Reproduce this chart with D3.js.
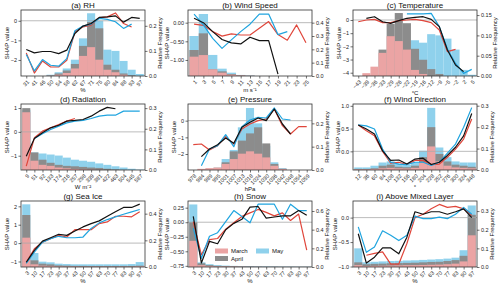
<!DOCTYPE html>
<html>
<head>
<meta charset="utf-8">
<script src="https://cdn.jsdelivr.net/npm/d3@7"></script>
<style>
  body { margin: 0; background: #fff; }
  svg { display: block; }
  text { font-family: "Liberation Sans", Arial, sans-serif; }
</style>
</head>
<body>
<div id="chart"></div>
<script>
// ---- data (SHAP values per bin, relative frequency per bin) ----
const pctLabels = ['3', '10', '17', '23', '30', '37', '43', '50', '57', '63', '70', '77', '83', '90', '97'];

// (a) RH
const rhLabels = ['31', '41', '46', '50', '54', '58', '62', '67', '71', '75', '80', '84', '88', '93', '97'];
const rhShapMar = [-1.64, -2.67, -2.05, -2.36, -2.36, -2.02, -0.56, -0.31, -0.22, 0.15, 0.2, 0.4, -0.14, -0.32, null];
const rhShapApr = [-1.47, -1.64, -1.57, -1.57, -1.68, -1.5, -0.65, -0.27, -0.14, 0.17, 0.2, 0.25, -0.07, 0.17, 0.12];
const rhShapMay = [-1.72, -2.56, -1.98, -2.27, -2.32, -1.93, -0.51, -0.27, -0.17, 0.12, 0.07, -0.05, -0.39, -0.17, null];
const rhFreqMar = [0, 0, 0, 0.001, 0.005, 0.012, 0.03, 0.08, 0.115, 0.065, 0.025, 0.015, 0.005, 0, 0];
const rhFreqApr = [0, 0, 0, 0.002, 0.01, 0.022, 0.048, 0.12, 0.215, 0.19, 0.045, 0.025, 0.01, 0.003, 0];
const rhFreqMay = [0, 0, 0, 0.005, 0.015, 0.03, 0.065, 0.15, 0.25, 0.22, 0.105, 0.1, 0.06, 0.025, 0.008];

// (b) Wind Speed
const wsLabels = ['1', '3', '5', '7', '9', '11', '13', '15', '17', '19', '21', '23', '25'];
const wsShapMar = [-0.04, -0.07, -0.24, -0.36, -0.3, -0.33, -0.33, -0.15, 0.03, -0.32, -0.47, -0.06, -0.54];
const wsShapApr = [0.12, 0.0, -0.24, -0.45, -0.54, -0.57, -0.39, -0.48, -0.48, -1.38, null, null, null];
const wsShapMay = [0.23, -0.06, -0.42, -0.69, -0.46, -0.24, -0.04, 0.23, 0.23, -0.32, -0.24, null, null];
const wsFreqMar = [0.145, 0.157, 0.05, 0.025, 0.01, 0.004, 0.001, 0, 0, 0, 0, 0, 0];
const wsFreqApr = [0.195, 0.32, 0.05, 0.035, 0.015, 0.005, 0.002, 0, 0, 0, 0, 0, 0];
const wsFreqMay = [0.3, 0.465, 0.158, 0.055, 0.025, 0.008, 0.003, 0, 0, 0, 0, 0, 0];

// (c) Temperature
const tLabels = ['\u221243', '\u221239', '\u221236', '\u221233', '\u221229', '\u221226', '\u221222', '\u221219', '\u221216', '\u221212', '\u22129', '\u22125', '\u22122', '2', '5'];
const tShapMar = [-0.13, 0, 0.05, -0.2, -0.2, -0.05, 0, 0.05, -0.05, -0.2, -0.76, -2.4, -2.23, null, null];
const tShapApr = [null, 0.13, 0.25, -0.13, -0.25, -0.05, 0.13, 0.2, 0.25, 0.05, -0.5, -2.28, -3.42, -3.92, null];
const tShapMay = [null, null, null, null, null, null, 0.46, 0.46, 0.46, 0.5, -0.5, -2.2, -3.3, -4.05, -3.75];
const tFreqMar = [0, 0.007, 0.023, 0.057, 0.098, 0.086, 0.065, 0.015, 0.005, 0, 0, 0, 0, 0, 0];
const tFreqApr = [0, 0, 0.003, 0.065, 0.128, 0.155, 0.13, 0.067, 0.04, 0.017, 0.005, 0, 0, 0, 0];
const tFreqMay = [0, 0, 0, 0, 0, 0, 0.003, 0.088, 0.082, 0.103, 0.1, 0.092, 0.065, 0.015, 0.003];

// (d) Radiation
const radLabels = ['9', '51', '92', '133', '174', '216', '257', '298', '339', '381', '422', '463', '504', '545', '587'];
const radShapMar = [-1.44, -0.25, 0.03, 0.17, 0.31, 0.45, 0.56, null, null, null, null, null, null, null, null];
const radShapApr = [-1.02, -0.28, -0.04, 0.17, 0.28, 0.45, 0.48, 0.52, 0.66, 0.87, 1.03, 0.97, null, null, null];
const radShapMay = [null, -0.28, -0.08, 0.1, 0.24, 0.38, 0.45, 0.48, 0.56, 0.66, 0.7, 0.7, 0.87, 0.87, 0.87];
const radFreqMar = [0.28, 0.045, 0.025, 0.02, 0.012, 0.008, 0.005, 0.003, 0.002, 0.001, 0, 0, 0, 0, 0];
const radFreqApr = [0.30, 0.085, 0.05, 0.035, 0.025, 0.02, 0.018, 0.015, 0.012, 0.01, 0.006, 0.003, 0.001, 0, 0];
const radFreqMay = [0.29, 0.085, 0.08, 0.075, 0.07, 0.06, 0.05, 0.045, 0.04, 0.032, 0.025, 0.018, 0.012, 0.006, 0.002];

// (e) Pressure
const presLabels = ['978', '984', '989', '995', '1001', '1007', '1013', '1018', '1024', '1030', '1036', '1042', '1048', '1054', '1059'];
const presShapMar = [-1.44, -1.4, -1.76, -1.5, -0.96, -1.4, -0.5, -0.2, 0, 0.1, 0.7, -0.3, -0.8, -0.36, -0.36];
const presShapApr = [null, -2.16, -1.7, -1.44, -1.04, -1.36, -0.4, -0.1, 0.16, 0, 0.7, -0.2, -0.8, null, null];
const presShapMay = [null, -2.7, -1.7, -1.5, -0.84, -1.56, -0.36, 0.04, 0.2, 0.16, 0.76, 0.1, 0.04, null, null];
const presFreqMar = [0, 0.005, 0.008, 0.01, 0.026, 0.047, 0.07, 0.08, 0.07, 0.054, 0.018, 0.005, 0, 0, 0];
const presFreqApr = [0, 0, 0.005, 0.01, 0.033, 0.08, 0.126, 0.157, 0.183, 0.114, 0.026, 0.005, 0, 0, 0];
const presFreqMay = [0, 0, 0.002, 0.005, 0.047, 0.086, 0.183, 0.266, 0.2, 0.104, 0.033, 0.008, 0, 0, 0];

// (f) Wind Direction
const wdLabels = ['12', '36', '60', '84', '108', '132', '156', '180', '204', '228', '252', '276', '300', '324', '348'];
const wdShapMar = [0.58, 0.45, 0.34, 0, -0.26, -0.24, -0.29, -0.2, -0.2, -0.29, -0.28, -0.13, 0.05, 0.27, 0.71];
const wdShapApr = [0.58, 0.49, 0.38, 0.01, -0.2, -0.19, -0.28, -0.17, -0.15, -0.29, -0.24, -0.09, 0.09, 0.34, 0.83];
const wdShapMay = [0.58, 0.56, 0.49, 0.05, -0.24, -0.28, -0.29, -0.24, -0.24, -0.31, -0.24, -0.04, 0.16, 0.53, 0.96];
const wdFreqMar = [0.003, 0.003, 0.005, 0.008, 0.01, 0.008, 0.007, 0.01, 0.035, 0.11, 0.04, 0.02, 0.012, 0.01, 0.008];
const wdFreqApr = [0.005, 0.005, 0.008, 0.02, 0.025, 0.015, 0.013, 0.02, 0.06, 0.2, 0.075, 0.04, 0.025, 0.02, 0.015];
const wdFreqMay = [0.012, 0.012, 0.02, 0.035, 0.04, 0.03, 0.025, 0.035, 0.09, 0.29, 0.105, 0.06, 0.04, 0.035, 0.035];

// (g) Sea Ice
const siShapMar = [-1.04, -0.31, 0.05, 0.24, 0.42, 0.33, 0.73, 0.73, 0.73, 1.06, 1.15, 1.46, 1.46, 1.43, 1.7];
const siShapApr = [-1.04, -0.4, 0.11, 0.29, 0.48, 0.42, 0.66, 0.88, 1.06, 1.21, 1.46, 1.7, 1.94, 1.94, 2.12];
const siShapMay = [-1.1, -0.49, 0.05, 0.24, 0.37, 0.29, 0.29, 0.33, 0.8, 1.1, 1.28, 1.43, 1.57, 1.7, 1.83];
const siFreqMar = [0.22, 0.02, 0.01, 0.008, 0.005, 0.004, 0.004, 0.003, 0.003, 0.003, 0.003, 0.003, 0.003, 0.003, 0.005];
const siFreqApr = [0.39, 0.05, 0.025, 0.02, 0.012, 0.01, 0.008, 0.008, 0.007, 0.007, 0.007, 0.007, 0.007, 0.008, 0.01];
const siFreqMay = [0.47, 0.105, 0.04, 0.035, 0.025, 0.022, 0.02, 0.02, 0.02, 0.02, 0.02, 0.02, 0.02, 0.022, 0.037];

// (h) Snow
const snShapMar = [0.01, -0.56, -0.3, -0.28, -0.12, -0.01, 0.1, 0.16, 0.22, 0.17, 0.11, 0.16, 0.03, 0.14, -0.48];
const snShapApr = [0.1, -0.7, -0.33, -0.37, -0.13, -0.02, 0.05, 0.26, 0.27, 0.07, 0.09, 0.11, 0.11, 0.2, 0.12];
const snShapMay = [-0.1, -0.62, -0.24, -0.18, 0.01, 0.2, 0.1, -0.01, 0.31, 0.31, 0.31, 0.05, 0.31, 0.2, 0.2];
const snFreqMar = [0.28, 0.02, 0.01, 0.006, 0.005, 0.004, 0.003, 0.002, 0.002, 0.001, 0.001, 0.001, 0.001, 0.001, 0.001];
const snFreqApr = [0.48, 0.04, 0.02, 0.012, 0.01, 0.008, 0.006, 0.005, 0.004, 0.003, 0.003, 0.002, 0.002, 0.002, 0.002];
const snFreqMay = [0.67, 0.05, 0.03, 0.02, 0.015, 0.012, 0.01, 0.01, 0.008, 0.007, 0.006, 0.005, 0.005, 0.004, 0.004];

// (i) Above Mixed Layer
const amShapMar = [null, -0.77, -0.73, -0.7, -0.95, -0.95, -0.53, 0, 0.07, 0.18, 0.27, 0.21, 0.23, 0.18, 0.05];
const amShapApr = [-0.33, -0.93, -0.81, -0.62, -0.62, -0.74, -0.4, 0.12, 0.07, 0.12, 0.12, 0.07, 0.12, 0.18, 0];
const amShapMay = [-0.19, -0.71, -0.6, -0.27, -0.36, -0.47, -0.36, 0.03, -0.02, -0.02, 0.01, -0.02, 0.07, 0.21, 0.07];
const amFreqMar = [0.01, 0.005, 0.006, 0.007, 0.008, 0.009, 0.01, 0.01, 0.011, 0.012, 0.013, 0.015, 0.018, 0.03, 0.17];
const amFreqApr = [0.025, 0.015, 0.017, 0.018, 0.02, 0.021, 0.022, 0.023, 0.025, 0.027, 0.028, 0.032, 0.037, 0.06, 0.28];
const amFreqMay = [0.1, 0.025, 0.028, 0.03, 0.032, 0.033, 0.035, 0.036, 0.038, 0.04, 0.042, 0.045, 0.05, 0.09, 0.33];

const months = ['March', 'April', 'May'];

// panel table built from the arrays above
const panels = [
  { title: '(a) RH', labels: rhLabels, xlabel: '%', shap: [rhShapMar, rhShapApr, rhShapMay], freq: [rhFreqMar, rhFreqApr, rhFreqMay],
    yDom: [-2.82, 0.55], yTicks: [-2, -1, 0], yFmt: 'd', fMax: 0.263, fTicks: [0, 0.1, 0.2], fFmt: '.1f' },
  { title: '(b) Wind Speed', labels: wsLabels, xlabel: 'm s\u207B\u00B9', shap: [wsShapMar, wsShapApr, wsShapMay], freq: [wsFreqMar, wsFreqApr, wsFreqMay],
    yDom: [-1.43, 0.34], yTicks: [-1, -0.5, 0], yFmt: '.2f', fMax: 0.495, fTicks: [0, 0.1, 0.2, 0.3, 0.4], fFmt: '.1f' },
  { title: '(c) Temperature', labels: tLabels, xlabel: '\u00B0C', shap: [tShapMar, tShapApr, tShapMay], freq: [tFreqMar, tFreqApr, tFreqMay],
    yDom: [-4.25, 0.76], yTicks: [-4, -3, -2, -1, 0], yFmt: 'd', fMax: 0.1625, fTicks: [0, 0.05, 0.1, 0.15], fFmt: '.2f' },
  { title: '(d) Radiation', labels: radLabels, xlabel: 'W m\u207B\u00B2', shap: [radShapMar, radShapApr, radShapMay], freq: [radFreqMar, radFreqApr, radFreqMay],
    yDom: [-1.6, 1.17], yTicks: [-1, 0, 1], yFmt: 'd', fMax: 0.32, fTicks: [0, 0.1, 0.2, 0.3], fFmt: '.1f' },
  { title: '(e) Pressure', labels: presLabels, xlabel: 'hPa', shap: [presShapMar, presShapApr, presShapMay], freq: [presFreqMar, presFreqApr, presFreqMay],
    yDom: [-2.96, 1.0], yTicks: [-2, -1, 0], yFmt: 'd', fMax: 0.283, fTicks: [0, 0.1, 0.2], fFmt: '.1f' },
  { title: '(f) Wind Direction', labels: wdLabels, xlabel: '\u00B0', shap: [wdShapMar, wdShapApr, wdShapMay], freq: [wdFreqMar, wdFreqApr, wdFreqMay],
    yDom: [-0.41, 1.04], yTicks: [0, 0.5, 1], yFmt: '.1f', fMax: 0.308, fTicks: [0, 0.1, 0.2, 0.3], fFmt: '.1f' },
  { title: '(g) Sea Ice', labels: pctLabels, xlabel: '%', shap: [siShapMar, siShapApr, siShapMay], freq: [siFreqMar, siFreqApr, siFreqMay],
    yDom: [-1.3, 2.29], yTicks: [-1, 0, 1, 2], yFmt: 'd', fMax: 0.495, fTicks: [0, 0.2, 0.4], fFmt: '.1f' },
  { title: '(h) Snow', labels: pctLabels, xlabel: '%', shap: [snShapMar, snShapApr, snShapMay], freq: [snFreqMar, snFreqApr, snFreqMay],
    yDom: [-0.77, 0.365], yTicks: [-0.75, -0.5, -0.25, 0, 0.25], yFmt: '.2f', fMax: 0.707, fTicks: [0, 0.2, 0.4, 0.6], fFmt: '.1f', legend: true },
  { title: '(i) Above Mixed Layer', labels: pctLabels, xlabel: '%', shap: [amShapMar, amShapApr, amShapMay], freq: [amFreqMar, amFreqApr, amFreqMay],
    yDom: [-1.01, 0.34], yTicks: [-1, -0.5, 0], yFmt: '.1f', fMax: 0.354, fTicks: [0, 0.1, 0.2, 0.3], fFmt: '.1f' },
];

const width = 500,
  height = 288;
const colX = [21, 188, 353],
  rowY = [10, 104, 201];
const pw = 124,
  ph = 66;
const barColor = ['#eba4a4', '#8c8c8c', '#8fd1ec']; // March, April, May
const lineColor = ['#e0463b', '#111111', '#1fa4df'];

const svg = d3
  .select('#chart')
  .append('svg')
  .attr('width', width)
  .attr('height', height);

svg.append('rect').attr('width', width).attr('height', height).attr('fill', '#fff');

const styleAxis = (sel) => {
  sel.select('.domain').remove();
  sel.selectAll('line').attr('stroke', '#333').attr('stroke-width', 0.7);
  sel.selectAll('text').attr('fill', '#222').style('font-size', '5.5px');
};

panels.forEach((p, k) => {
  const x0 = colX[k % 3],
    y0 = rowY[Math.floor(k / 3)];
  const n = p.labels.length;
  const x = d3.scaleLinear().domain([-0.65, n - 0.35]).range([x0, x0 + pw]);
  const y = d3.scaleLinear().domain(p.yDom).range([y0 + ph, y0]);
  const yf = d3.scaleLinear().domain([0, p.fMax]).range([y0 + ph, y0]);
  const g = svg.append('g');
  const bw = x(1) - x(0);

  // histogram bars: May behind, then April, March in front
  [2, 1, 0].forEach((m) => {
    g.append('g')
      .selectAll('rect')
      .data(p.freq[m])
      .join('rect')
      .attr('x', (d, i) => x(i - 0.5))
      .attr('width', bw)
      .attr('y', (d) => yf(d))
      .attr('height', (d) => yf(0) - yf(d))
      .attr('fill', barColor[m]);
  });

  // zero line
  g.append('line')
    .attr('x1', x0).attr('x2', x0 + pw)
    .attr('y1', y(0)).attr('y2', y(0))
    .attr('stroke', '#aaa').attr('stroke-width', 0.8);

  const line = d3
    .line()
    .defined((d) => d != null)
    .x((d, i) => x(i))
    .y((d) => y(d));

  [0, 2, 1].forEach((m) => {
    g.append('path')
      .attr('d', line(p.shap[m]))
      .attr('fill', 'none')
      .attr('stroke', lineColor[m])
      .attr('stroke-width', 1.2)
      .attr('stroke-linejoin', 'round');
  });

  // frame
  g.append('rect')
    .attr('x', x0).attr('y', y0).attr('width', pw).attr('height', ph)
    .attr('fill', 'none').attr('stroke', '#333').attr('stroke-width', 0.8);

  // axes
  const gl = g.append('g')
    .attr('transform', `translate(${x0},0)`)
    .call(d3.axisLeft(y).tickValues(p.yTicks).tickFormat(d3.format(p.yFmt)).tickSize(2.5).tickPadding(1.5))
    .call(styleAxis);
  const gr = g.append('g')
    .attr('transform', `translate(${x0 + pw},0)`)
    .call(d3.axisRight(yf).tickValues(p.fTicks).tickFormat(d3.format(p.fFmt)).tickSize(2.5).tickPadding(1.5))
    .call(styleAxis);
  const gb = g.append('g')
    .attr('transform', `translate(0,${y0 + ph})`)
    .call(d3.axisBottom(x).tickValues(d3.range(n)).tickFormat((i) => p.labels[i]).tickSize(2.5))
    .call(styleAxis);
  gb.selectAll('text')
    .attr('x', 0).attr('y', 0).attr('dy', '0.35em')
    .attr('text-anchor', 'end')
    .attr('transform', 'translate(1.5,5) rotate(-45)');

  // titles and axis labels
  g.append('text')
    .attr('x', x0 + pw / 2).attr('y', y0 - 2.5)
    .attr('text-anchor', 'middle').style('font-size', '8px').attr('fill', '#111')
    .text(p.title);

  const bbB = gb.node().getBBox();
  g.append('text')
    .attr('x', x0 + pw / 2).attr('y', y0 + ph + bbB.y + bbB.height + 5)
    .attr('text-anchor', 'middle').style('font-size', '6px').attr('fill', '#111')
    .text(p.xlabel);

  const bbL = gl.node().getBBox();
  g.append('text')
    .attr('transform', `translate(${x0 + bbL.x - 1.5},${y0 + ph / 2}) rotate(-90)`)
    .attr('text-anchor', 'middle').style('font-size', '6px').attr('fill', '#111')
    .text('SHAP value');

  const bbR = gr.node().getBBox();
  g.append('text')
    .attr('transform', `translate(${x0 + pw + bbR.x + bbR.width + 5.5},${y0 + ph / 2}) rotate(-90)`)
    .attr('text-anchor', 'middle').style('font-size', '6px').attr('fill', '#111')
    .text('Relative Frequency');

  if (p.legend) {
    const pos = [[215, 248.5], [215, 256], [256, 248.5]];
    months.forEach((mName, m) => {
      const [lx, ly] = pos[m];
      g.append('rect').attr('x', lx).attr('y', ly).attr('width', 13).attr('height', 5).attr('fill', barColor[m]);
      g.append('text').attr('x', lx + 16).attr('y', ly + 4.6)
        .style('font-size', '6px').attr('fill', '#111').text(mName);
    });
  }
});
</script>
</body>
</html>
